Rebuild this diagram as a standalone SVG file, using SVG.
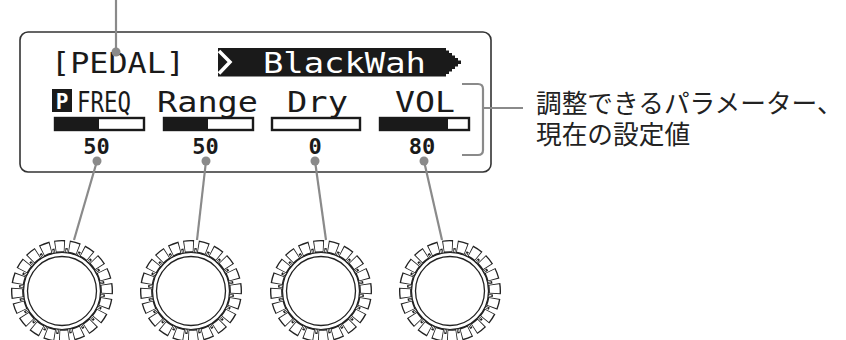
<svg xmlns="http://www.w3.org/2000/svg" width="846" height="340" viewBox="0 0 846 340">
<style>
.lcd{font-family:"DejaVu Sans Mono","Liberation Mono",monospace;fill:#1a1a1a}
.num{font-family:"DejaVu Sans Mono","Liberation Mono",monospace;font-weight:bold;font-size:22px;fill:#1a1a1a}
.lead{stroke:#8a8a8a;stroke-width:2.2;fill:none}
.dot{fill:#8a8a8a}
.bar{fill:#fff;stroke:#1a1a1a;stroke-width:2.4}
.fill{fill:#1a1a1a}
.jp{font-family:"Noto Sans CJK JP","Noto Sans",sans-serif;font-size:25.7px;fill:#222}
</style>
<defs>
<g id="knob">
<g transform="rotate(-99)">
<circle r="44.75" fill="none" stroke="#222" stroke-width="12.5" pathLength="200" stroke-dasharray="7 3"/>
<circle r="44.75" fill="none" stroke="#fff" stroke-width="9.8" pathLength="200" stroke-dasharray="5.8 4.2" stroke-dashoffset="-0.6"/>
<circle r="40.75" fill="none" stroke="#222" stroke-width="4.8" pathLength="200" stroke-dasharray="1.8 8.2" stroke-dashoffset="-7.6"/>
<circle r="40.3" fill="none" stroke="#fff" stroke-width="2.6" pathLength="200" stroke-dasharray="0.7 9.3" stroke-dashoffset="-8.15"/>
</g>
<circle r="38.5" fill="none" stroke="#222" stroke-width="1.2"/>
<circle r="34.5" fill="#fff" stroke="#222" stroke-width="1.3"/>
</g>
</defs>
<rect width="846" height="340" fill="#fff"/>

<g id="display">
<rect x="20" y="32" width="471" height="140" rx="8" fill="#fff" stroke="#333" stroke-width="1.6"/>
</g>

<g id="title">
<text class="lcd" x="51" y="73" font-size="28.5" textLength="134" lengthAdjust="spacingAndGlyphs">[PEDAL]</text>
</g>

<g id="banner">
<polygon fill="#1a1a1a" points="218,48 446,48 446,50.5 449,50.5 449,53 452,53 452,55.5 455,55.5 455,58 458,58 458,60.5 461,60.5 461,64 458,64 458,66.5 455,66.5 455,69 452,69 452,71.5 449,71.5 449,74 446,74 446,76.5 218,76.5"/>
<polyline points="219,51 230,62 219,73.5" fill="none" stroke="#fff" stroke-width="3.5"/>
<text class="lcd" x="263" y="73" font-size="28.5" style="fill:#fff" textLength="163" lengthAdjust="spacingAndGlyphs">BlackWah</text>
</g>

<g id="param-freq">
<rect x="52" y="89" width="20" height="23" fill="#1a1a1a"/>
<text x="62" y="108.5" text-anchor="middle" font-family="DejaVu Sans Mono,monospace" font-weight="bold" font-size="21" fill="#fff">P</text>
<text class="lcd" x="77" y="112" font-size="28.5" textLength="54" lengthAdjust="spacingAndGlyphs">FREQ</text>
<rect class="bar" x="55" y="118" width="89" height="12"/>
<rect class="fill" x="55" y="118" width="44" height="12"/>
<text class="num" x="96.5" y="154" text-anchor="middle">50</text>
</g>

<g id="param-range">
<text class="lcd" x="157" y="112" font-size="28.5" textLength="101" lengthAdjust="spacingAndGlyphs">Range</text>
<rect class="bar" x="164" y="118" width="89" height="12"/>
<rect class="fill" x="164" y="118" width="44" height="12"/>
<text class="num" x="205.5" y="154" text-anchor="middle">50</text>
</g>

<g id="param-dry">
<text class="lcd" x="287" y="112" font-size="28.5" textLength="61" lengthAdjust="spacingAndGlyphs">Dry</text>
<rect class="bar" x="272" y="118" width="88" height="12"/>
<text class="num" x="315" y="154" text-anchor="middle">0</text>
</g>

<g id="param-vol">
<text class="lcd" x="395" y="112" font-size="28.5" textLength="60" lengthAdjust="spacingAndGlyphs">VOL</text>
<rect class="bar" x="380" y="118" width="89" height="12"/>
<rect class="fill" x="380" y="118" width="68" height="12"/>
<text class="num" x="422" y="154" text-anchor="middle">80</text>
</g>

<g id="label">
<text class="jp"><tspan x="536" y="112.5">調整できるパラメーター、</tspan><tspan x="536" y="144">現在の設定値</tspan></text>
</g>

<g id="knob1" transform="translate(62,291)"><use href="#knob"/></g>
<g id="knob2" transform="translate(191,291)"><use href="#knob"/></g>
<g id="knob3" transform="translate(321,291)"><use href="#knob"/></g>
<g id="knob4" transform="translate(450,291)"><use href="#knob"/></g>

<g id="connectors">
<line class="lead" x1="116" y1="0" x2="116" y2="52"/>
<circle class="dot" cx="116" cy="52" r="4.5"/>
<path class="lead" d="M462,84 H478 Q483,84 483,89 V150 Q483,155 478,155 H462"/>
<line class="lead" x1="484" y1="108" x2="523" y2="108"/>
<line class="lead" x1="97" y1="161" x2="74" y2="240"/>
<line class="lead" x1="206" y1="161" x2="197" y2="240"/>
<line class="lead" x1="315" y1="161" x2="326" y2="240"/>
<line class="lead" x1="424" y1="161" x2="442" y2="240"/>
<circle class="dot" cx="97" cy="161" r="4.5"/>
<circle class="dot" cx="206" cy="161" r="4.5"/>
<circle class="dot" cx="315" cy="161" r="4.5"/>
<circle class="dot" cx="424" cy="161" r="4.5"/>
</g>
</svg>
